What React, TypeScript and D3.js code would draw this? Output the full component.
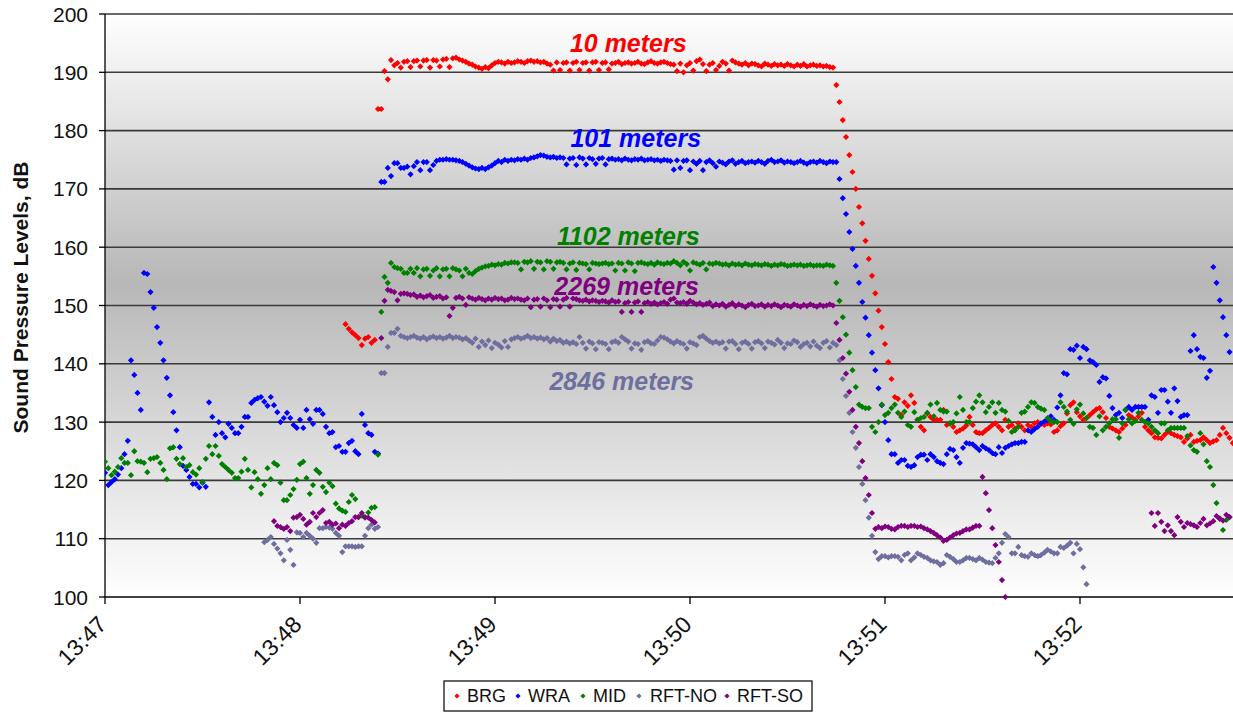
import React from "react";
import * as d3 from "d3";

// ---- data (seconds after 13:47:00, one sample per second; null = no sample) ----
const seriesNames = ["BRG", "WRA", "MID", "RFT-NO", "RFT-SO"];
const rangeLabels = ["10 meters", "101 meters", "1102 meters", "2846 meters", "2269 meters"];
const yTicks = [100, 110, 120, 130, 140, 150, 160, 170, 180, 190, 200];
const xTickMinutes = [47, 48, 49, 50, 51, 52];

const brgStart = 74;
const brgValues = [
  146.8,146.0,145.4,144.9,144.4,143.2,144.3,144.6,143.6,144.1,
  183.7,183.7,190.2,188.8,192.1,
  191.2,191.6,190.8,191.8,191.9,190.9,191.9,192.0,191.0,192.0,192.1,190.8,192.1,192.0,191.0,192.2,192.3,190.9,192.4,192.5,192.2,192.0,191.8,191.5,
  191.3,191.0,190.8,190.6,190.9,190.7,191.2,191.6,191.8,
  191.7,191.5,191.8,191.6,191.7,191.9,191.8,191.6,191.9,192.0,191.8,191.9,191.7,191.8,191.5,191.3,190.3,
  191.7,190.4,191.6,191.7,190.3,191.6,191.8,190.4,191.6,191.7,190.3,191.7,
  191.8,190.4,191.6,191.7,190.5,191.5,191.6,191.8,191.4,191.6,191.7,191.5,
  191.6,191.8,191.5,191.4,191.7,191.9,191.6,191.5,191.7,191.8,191.6,191.4,
  191.3,190.2,191.5,190.0,191.2,191.6,190.3,191.9,192.2,191.4,190.2,191.3,
  191.6,190.4,191.1,191.8,191.5,190.3,192.0,191.7,191.5,191.3,191.6,191.2,
  191.5,191.4,191.2,191.0,191.5,191.3,191.1,191.4,191.2,191.3,191.1,191.4,
  191.2,191.0,191.3,191.1,191.4,191.0,191.2,191.3,191.1,191.2,191.0,191.1,190.9,190.8,
  187.8,184.9,181.8,178.9,175.8,172.9,170.0,166.9,164.1,161.1,158.0,155.1,152.1,149.1,146.3,143.4,140.3,137.4,134.3,
  134.0,131.2,133.4,132.8,134.6,133.3,130.4,129.2,128.6,131.5,130.9,130.4,130.4,130.4,132.1,129.5,129.8,129.2,128.3,128.6,
  128.9,129.4,130.9,129.5,128.3,128.1,128.1,128.6,129.0,129.5,129.8,129.2,128.6,130.4,129.2,129.5,128.9,129.8,129.2,128.6,
  129.5,129.2,129.8,130.0,129.7,129.5,129.8,129.6,128.3,128.6,129.3,129.8,131.5,132.9,133.4,131.7,131.0,130.4,130.7,131.2,
  131.7,132.2,132.4,131.7,130.7,129.2,128.9,128.6,128.3,128.9,129.5,131.2,130.8,130.4,131.0,131.6,129.2,128.6,128.1,127.4,
  127.3,127.2,127.8,128.3,128.1,127.8,127.6,127.4,126.6,127.2,127.8,126.6,126.8,126.9,127.4,126.9,126.4,126.7,126.9,127.8,
  129.0,128.1,127.3,126.4,
];

const wraStart = 0;
const wraValues = [
  121.3,119.2,119.7,120.2,121.0,122.1,124.5,126.8,140.6,138.1,135.0,132.1,155.6,155.4,152.3,149.6,146.3,143.6,140.6,137.6,
  134.6,131.7,128.6,125.7,122.5,121.8,120.6,119.4,119.4,118.8,119.6,118.9,133.4,130.9,127.8,130.0,128.1,127.4,129.7,129.0,
  128.1,128.1,129.2,130.9,130.9,133.3,133.8,134.1,134.3,133.5,132.8,134.3,132.9,131.7,130.0,130.7,131.6,130.7,129.5,129.0,
  130.4,129.0,132.1,130.5,129.7,132.1,132.1,131.4,129.2,128.1,128.3,125.7,125.9,124.9,124.9,126.4,126.8,125.0,124.5,131.4,
  129.5,128.1,127.8,124.9,124.6,
  171.2,171.2,173.6,172.2,174.4,174.4,173.6,173.6,173.8,172.5,173.9,174.6,173.2,174.6,174.6,173.2,174.1,
  174.8,175.0,175.0,175.1,175.0,175.0,174.9,174.8,174.6,
  174.3,174.0,173.7,173.5,173.4,173.6,173.4,173.7,174.0,
  174.4,174.8,174.6,175.0,174.8,175.0,174.9,175.1,175.0,175.2,175.0,175.3,175.4,175.6,175.8,
  175.7,175.5,175.4,175.5,175.3,175.4,
  175.3,174.2,175.2,175.3,174.1,175.4,175.2,174.2,175.3,175.1,174.3,175.2,
  175.3,174.2,175.1,175.2,175.0,175.1,174.9,175.2,175.0,174.9,175.1,175.0,
  175.2,174.9,175.0,175.1,174.9,175.0,174.8,175.0,174.9,174.8,173.3,174.9,
  173.6,174.8,174.9,173.2,174.7,174.3,174.8,173.2,174.6,174.9,174.4,173.8,
  174.7,174.5,174.2,174.7,174.9,174.3,174.6,174.8,174.4,174.6,174.7,174.5,
  174.8,174.6,174.3,174.8,175.0,174.6,174.7,174.9,174.5,174.7,174.6,174.4,
  174.6,174.8,174.5,174.3,174.6,174.7,174.5,174.8,174.6,174.4,174.7,174.6,
  174.6,171.7,168.4,165.7,162.6,159.7,156.8,153.9,150.6,147.9,144.9,141.9,138.9,135.8,132.9,130.0,126.9,124.5,124.5,
  123.0,123.5,123.5,122.5,122.3,122.6,124.0,124.4,124.4,123.5,124.5,124.0,123.3,123.0,122.8,124.5,125.4,125.2,124.0,123.0,
  125.6,126.4,126.3,126.2,125.7,125.2,125.9,125.5,125.2,124.7,124.5,125.7,124.7,125.6,125.9,126.2,126.4,126.4,126.6,126.6,
  128.6,128.3,128.8,129.2,129.8,130.1,130.4,131.0,130.4,132.5,134.6,138.4,138.2,142.5,142.4,143.1,141.0,142.9,142.5,140.6,
  140.3,139.8,136.9,137.7,137.5,134.5,132.4,131.2,131.6,130.7,132.1,132.6,132.1,132.6,132.6,132.6,132.6,130.4,134.6,134.3,
  131.6,135.5,135.5,133.5,131.6,135.8,133.6,130.9,131.2,131.2,142.2,144.9,142.5,141.2,141.0,137.6,138.8,156.6,153.9,150.9,
  148.0,144.9,142.0,
];

const midStart = 0;
const midValues = [
  123.2,122.1,120.9,121.5,122.3,123.8,123.0,123.0,120.9,125.0,123.3,123.2,123.0,121.4,123.7,123.8,124.0,123.0,121.8,120.2,
  125.5,125.7,123.7,122.8,123.8,122.3,122.6,121.4,121.0,122.1,119.7,123.7,125.9,124.5,125.9,124.2,122.8,122.3,121.8,121.3,
  120.4,120.4,121.5,123.7,121.8,118.8,121.4,120.2,117.7,119.2,122.1,120.2,123.0,122.6,119.6,116.6,116.6,117.5,118.5,120.1,
  122.8,123.2,120.4,117.7,119.2,121.8,121.3,118.9,118.0,119.6,119.0,116.0,115.2,114.8,114.6,116.3,117.5,116.8,113.7,114.0,
  113.6,114.5,115.3,115.4,124.4,
  148.9,154.9,153.9,157.3,156.6,156.4,156.3,155.6,155.6,156.3,
  155.6,156.4,155.0,156.2,156.3,155.1,156.0,156.4,155.0,156.2,156.3,155.0,156.4,156.2,156.0,155.0,156.3,155.6,
  155.4,155.9,156.3,156.5,156.7,156.8,157.0,156.9,157.1,157.0,157.3,157.2,157.4,
  157.4,157.3,156.2,157.5,157.4,157.6,156.3,157.5,157.4,156.2,157.6,157.5,156.3,157.4,157.5,
  157.3,156.2,157.2,157.4,156.1,157.3,157.2,157.1,156.2,157.3,157.2,157.1,
  157.2,157.3,157.1,157.2,156.0,157.3,157.2,156.0,157.4,157.2,155.9,157.3,
  157.4,157.2,157.1,157.3,157.0,157.4,157.2,157.1,157.3,157.2,157.6,157.3,
  156.9,157.5,157.1,156.0,157.4,157.2,157.0,157.3,156.2,157.2,157.1,157.3,
  157.2,157.0,157.1,156.9,157.2,157.0,157.1,156.9,157.2,157.0,156.9,157.1,
  157.0,156.9,157.1,157.0,156.8,157.0,156.9,157.1,157.0,156.8,156.9,157.0,
  156.9,157.0,156.8,156.9,157.0,156.8,156.9,156.9,156.8,157.0,156.9,156.8,
  153.9,150.8,148.0,145.0,141.9,138.9,136.0,
  133.0,132.6,132.4,132.4,129.2,128.3,130.0,133.0,131.2,131.6,132.4,133.0,131.6,130.9,131.8,129.5,129.2,131.7,130.4,130.7,
  130.9,131.6,133.0,131.0,133.3,132.1,131.8,131.8,129.8,130.0,131.5,134.3,132.1,130.0,130.0,132.4,133.5,134.6,133.4,131.7,
  132.6,133.4,131.6,133.3,132.1,131.8,130.2,128.3,128.6,129.2,131.6,131.8,132.6,133.4,133.3,132.6,132.3,132.1,130.7,130.2,
  130.0,130.0,133.4,132.6,131.8,130.4,129.7,132.2,133.0,131.5,130.7,129.2,129.0,127.8,131.0,128.6,129.2,129.8,130.5,130.5,
  127.3,129.8,132.1,130.5,129.8,130.2,131.6,130.4,130.0,129.8,129.2,128.6,128.1,129.8,129.8,128.6,129.0,129.0,129.0,129.0,
  129.0,127.6,126.0,125.2,124.9,128.1,126.2,123.3,122.3,119.2,116.1,113.5,111.5,113.2,113.7,
];

const rftNoStart = 49;
const rftNoValues = [
  109.4,109.8,110.3,109.1,108.3,107.5,106.3,109.8,108.1,105.5,111.1,111.0,110.3,111.0,110.5,110.0,109.3,111.8,111.8,112.0,
  111.9,111.7,111.0,110.5,107.7,108.7,108.7,108.7,108.6,108.7,108.7,110.5,111.8,112.4,111.7,112.0,
  138.4,138.4,142.9,145.3,145.3,146.0,144.8,144.6,
  144.4,144.6,144.8,144.5,144.3,144.6,144.2,144.5,144.7,144.4,144.6,144.3,144.5,144.8,144.4,144.6,144.5,144.2,144.4,144.0,
  143.6,144.3,142.9,143.8,143.2,144.0,142.7,143.6,143.3,142.8,143.9,142.9,144.2,
  144.4,144.6,144.3,144.5,144.8,144.4,144.6,144.3,144.5,144.2,144.4,143.8,144.3,143.9,144.1,
  143.6,143.8,143.5,143.7,143.4,144.6,143.6,142.6,143.8,143.5,142.5,143.7,
  143.6,143.4,142.5,143.7,143.9,143.6,144.6,144.2,143.8,142.6,143.5,143.4,
  142.4,143.7,143.9,143.5,143.4,144.0,144.6,144.5,144.2,143.8,143.5,143.9,
  143.6,143.4,142.6,143.7,143.5,143.2,144.6,144.8,144.3,143.9,143.6,143.8,
  143.5,143.7,142.6,143.8,143.9,143.4,142.5,143.6,143.8,143.4,142.6,143.7,
  143.9,143.5,142.7,143.8,143.6,143.3,144.1,143.6,142.7,143.5,143.4,144.0,
  143.7,142.9,143.4,143.6,143.0,143.8,143.1,142.7,143.6,143.9,142.8,143.6,
  143.2,140.6,137.4,134.5,131.6,128.3,125.6,122.3,119.4,116.6,113.6,110.5,107.7,106.5,
  107.0,107.0,106.8,107.0,107.0,106.9,106.3,107.2,107.5,106.3,106.8,107.5,107.2,106.9,106.7,106.3,106.1,106.0,105.5,105.8,
  107.2,106.9,106.5,106.0,106.0,106.3,106.7,106.7,106.5,106.3,106.7,106.4,106.0,105.9,105.8,106.7,107.5,109.3,110.8,110.3,
  107.5,107.5,108.6,107.2,107.0,106.9,107.5,107.2,107.0,107.2,107.6,108.1,107.8,107.5,107.5,108.6,108.4,108.8,109.3,107.5,
  109.1,108.2,105.1,102.2,
];

const rftSoStart = 52;
const rftSoValues: (number | null)[] = [
  113.0,112.2,112.0,111.7,112.0,111.3,113.6,113.7,114.1,113.4,112.4,112.9,114.4,113.7,114.4,114.9,112.7,112.9,112.4,112.6,
  111.8,112.4,112.2,112.7,113.0,113.7,113.7,114.4,113.7,113.6,113.2,112.8,
  null,
  144.4,150.8,152.7,152.5,152.3,150.9,152.0,152.1,152.0,151.8,151.9,151.5,151.7,151.4,151.6,151.8,151.3,151.5,151.6,151.2,
  151.4,148.2,149.6,151.3,151.5,151.2,150.1,151.4,
  151.2,151.0,151.3,151.1,150.9,151.2,151.0,151.3,151.1,151.2,150.9,151.0,151.3,151.1,151.2,151.0,150.9,151.2,149.7,151.0,
  151.1,149.8,151.2,150.9,149.7,151.1,151.0,149.8,
  151.0,151.3,149.8,151.2,151.1,150.9,150.8,151.0,150.7,150.9,150.8,150.6,
  150.8,150.7,150.5,150.9,150.6,150.7,148.9,150.4,150.6,148.9,150.5,150.7,
  148.9,150.4,150.6,150.3,150.5,150.2,150.4,150.6,150.3,151.0,151.2,150.5,
  150.4,150.6,150.3,150.8,150.5,150.2,150.4,150.1,150.3,150.5,149.9,150.2,
  150.0,150.3,149.8,150.1,150.4,149.9,150.2,150.0,149.7,150.1,150.3,149.9,
  150.0,150.2,149.8,150.1,149.9,150.2,150.0,149.7,150.1,150.0,149.8,150.2,
  150.0,149.8,150.1,149.9,150.2,150.0,149.8,150.1,149.9,150.0,150.2,150.0,
  147.0,144.1,141.0,138.3,135.2,132.1,129.2,126.4,123.3,120.4,117.5,114.4,111.7,
  112.0,111.8,112.1,112.0,111.7,111.6,112.0,112.2,112.2,112.0,112.2,112.2,112.0,112.1,111.8,111.6,111.3,111.0,110.6,110.2,
  109.6,109.8,110.2,110.6,110.9,111.0,111.3,111.6,111.6,111.9,112.2,112.2,120.6,117.8,114.9,111.8,108.9,106.0,102.9,100.0,
];
const rftSoLateStart = 322;
const rftSoLateValues = [
  114.4,112.2,114.4,112.9,111.3,112.3,111.3,110.6,113.7,112.9,112.0,112.7,112.5,112.3,112.0,112.7,113.4,112.3,112.6,113.0,
  113.9,113.4,113.1,114.1,113.7,
];

// label anchors: [seconds after 13:47, dB]
const labelTimes = [161, 163.3, 161, 159, 160.5];
const labelLevels = [193.5, 177.2, 160.4, 135.5, 151.8];

const colors = ["#ff0000", "#0000ff", "#008000", "#6f6f9f", "#800080"];

const W = 1233;
const H = 712;
const M = { left: 105, top: 14, right: 1233, bottom: 597 };
const base = new Date(2000, 0, 1, 13, 47, 0);
const endSec = (M.right - M.left) / 3.25;

function toPoints(start: number, vals: (number | null)[]) {
  const out: { t: number; v: number }[] = [];
  vals.forEach((v, i) => {
    if (v !== null && v !== undefined) out.push({ t: start + i, v });
  });
  return out;
}

export default function App() {
  const x = d3
    .scaleTime()
    .domain([base, new Date(base.getTime() + endSec * 1000)])
    .range([M.left, M.right]);
  const y = d3.scaleLinear().domain([100, 200]).range([M.bottom, M.top]);
  const xs = (t: number) => x(new Date(base.getTime() + t * 1000));

  const series = [
    toPoints(brgStart, brgValues),
    toPoints(wraStart, wraValues),
    toPoints(midStart, midValues),
    toPoints(rftNoStart, rftNoValues),
    [...toPoints(rftSoStart, rftSoValues), ...toPoints(rftSoLateStart, rftSoLateValues)],
  ];

  const diamond = (cx: number, cy: number, r: number) =>
    `M${cx.toFixed(1)},${(cy - r).toFixed(1)}L${(cx + r).toFixed(1)},${cy.toFixed(1)}L${cx.toFixed(1)},${(cy + r).toFixed(1)}L${(cx - r).toFixed(1)},${cy.toFixed(1)}Z`;

  const font = "'Liberation Sans', Arial, sans-serif";
  const fmt = d3.timeFormat("%H:%M");

  const legendItems = [
    { x: 457, tx: 467 },
    { x: 518, tx: 528 },
    { x: 583, tx: 593 },
    { x: 639, tx: 650 },
    { x: 727, tx: 737 },
  ];

  return (
    <svg
      width={W}
      height={H}
      style={{ position: "absolute", left: 0, top: 0, background: "#fff" }}
      fontFamily={font}
    >
      <defs>
        <linearGradient id="bg" x1="0" y1="0" x2="0" y2="1">
          <stop offset="0" stopColor="#ffffff" />
          <stop offset="0.46" stopColor="#b7b7b7" />
          <stop offset="1" stopColor="#ffffff" />
        </linearGradient>
        <clipPath id="plot">
          <rect x={M.left} y={M.top - 4} width={M.right - M.left + 4} height={M.bottom - M.top + 8} />
        </clipPath>
      </defs>
      <rect x={M.left} y={M.top} width={M.right - M.left} height={M.bottom - M.top} fill="url(#bg)" />
      {yTicks.map((v) => (
        <g key={v}>
          {v > 100 && (
            <line x1={M.left} x2={M.right} y1={y(v)} y2={y(v)} stroke="#3a3a3a" strokeWidth={1.6} />
          )}
          <line x1={M.left - 6} x2={M.left} y1={y(v)} y2={y(v)} stroke="#000" strokeWidth={1.3} />
          <text x={88} y={y(v)} dy="0.36em" textAnchor="end" fontSize={21} fill="#111">
            {v}
          </text>
        </g>
      ))}
      <line x1={M.left} x2={M.left} y1={M.top} y2={M.bottom} stroke="#000" strokeWidth={1.3} />
      <line x1={M.left} x2={M.right} y1={M.bottom} y2={M.bottom} stroke="#000" strokeWidth={1.3} />
      {xTickMinutes.map((m) => {
        const d = new Date(2000, 0, 1, 13, m, 0);
        const px = x(d);
        return (
          <g key={m}>
            <line x1={px} x2={px} y1={M.bottom} y2={M.bottom + 7} stroke="#000" strokeWidth={1.3} />
            <text
              transform={`translate(${px + 3},${M.bottom + 29}) rotate(-45)`}
              textAnchor="end"
              fontSize={23}
              fill="#111"
            >
              {fmt(d)}
            </text>
          </g>
        );
      })}
      <g clipPath="url(#plot)">
        {series.map((pts, i) => (
          <path
            key={i}
            d={pts.map((p) => diamond(xs(p.t), y(p.v), 3.1)).join("")}
            fill={colors[i]}
          />
        ))}
      </g>
      {labelTimes.map((t, i) => (
        <text
          key={i}
          x={xs(t)}
          y={y(labelLevels[i])}
          textAnchor="middle"
          fontSize={25}
          fontWeight="bold"
          fontStyle="italic"
          fill={colors[i]}
        >
          {rangeLabels[i]}
        </text>
      ))}
      <text
        transform={`translate(28,${(M.top + M.bottom) / 2 - 8}) rotate(-90)`}
        textAnchor="middle"
        fontSize={21}
        fontWeight="bold"
        fill="#111"
      >
        Sound Pressure Levels, dB
      </text>
      <rect x={444} y={681} width={368} height={30} fill="#fff" stroke="#000" strokeWidth={1.2} />
      {legendItems.map((it, i) => (
        <g key={i}>
          <path d={diamond(it.x, 696, 2.6)} fill={colors[i]} />
          <text x={it.tx} y={696} dy="0.36em" fontSize={18} fill="#111">
            {seriesNames[i]}
          </text>
        </g>
      ))}
    </svg>
  );
}
